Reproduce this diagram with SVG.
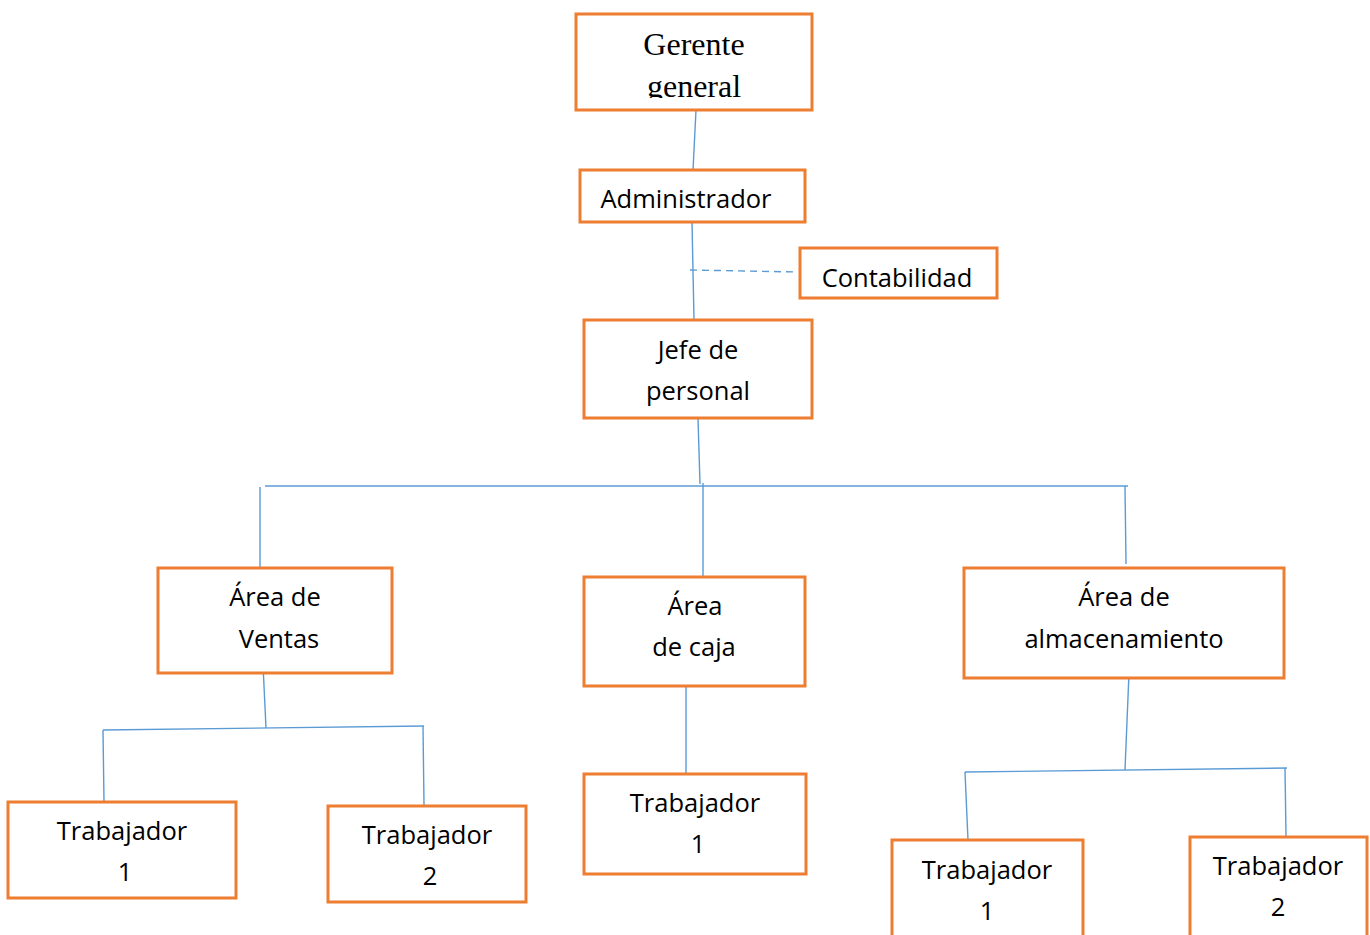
<svg xmlns="http://www.w3.org/2000/svg" width="1370" height="935" viewBox="0 0 1370 935">
<style>
.box{fill:#fff;stroke:#ed7d31;stroke-width:3}
.t{font-family:"Open Sans","Noto Sans","Liberation Sans",sans-serif;font-size:25.5px;fill:#000;text-anchor:middle}
.s{font-family:"Liberation Serif",serif;font-size:32px;fill:#000;text-anchor:middle}
.c{stroke:#5b9bd5;stroke-width:1.4;fill:none}
.d{stroke-dasharray:7 5}
</style>
<defs>
<clipPath id="gclip"><rect x="576" y="14" width="236" height="84"/></clipPath>
</defs>
<rect width="1370" height="935" fill="#fff"/>
<g id="connectors">
<line class="c" x1="696" y1="110" x2="693" y2="170"/>
<line class="c" x1="692" y1="222" x2="694" y2="320"/>
<line class="c d" x1="690" y1="270" x2="798" y2="272"/>
<line class="c" x1="698" y1="418" x2="700" y2="484"/>
<line class="c" x1="265" y1="486" x2="1128" y2="486"/>
<line class="c" x1="260" y1="487" x2="260" y2="567"/>
<line class="c" x1="703" y1="483" x2="703" y2="576"/>
<line class="c" x1="1125" y1="486" x2="1126" y2="564"/>
<line class="c" x1="263" y1="665" x2="266" y2="728"/>
<line class="c" x1="103" y1="730" x2="424" y2="726"/>
<line class="c" x1="103" y1="730" x2="104" y2="802"/>
<line class="c" x1="423" y1="726" x2="424" y2="805"/>
<line class="c" x1="686" y1="682" x2="686" y2="774"/>
<line class="c" x1="1129" y1="673" x2="1125" y2="770"/>
<line class="c" x1="965" y1="772" x2="1287" y2="768"/>
<line class="c" x1="965" y1="772" x2="968" y2="840"/>
<line class="c" x1="1285" y1="768" x2="1286" y2="836"/>
</g>
<g id="gerente">
<rect class="box" x="576" y="14" width="236" height="96"/>
<g clip-path="url(#gclip)">
<text class="s" x="694" y="55">Gerente</text>
<text class="s" x="694" y="97">general</text>
</g>
</g>
<g id="administrador">
<rect class="box" x="580" y="170" width="225" height="52"/>
<text class="t" x="686" y="208">Administrador</text>
</g>
<g id="contabilidad">
<rect class="box" x="800" y="248" width="197" height="50"/>
<text class="t" x="897" y="287">Contabilidad</text>
</g>
<g id="jefe">
<rect class="box" x="584" y="320" width="228" height="98"/>
<text class="t" x="698" y="359">Jefe de</text>
<text class="t" x="698" y="400">personal</text>
</g>
<g id="ventas">
<rect class="box" x="158" y="568" width="234" height="105"/>
<text class="t" x="275" y="606">Área de</text>
<text class="t" x="279" y="648">Ventas</text>
</g>
<g id="caja">
<rect class="box" x="584" y="577" width="221" height="109"/>
<text class="t" x="695" y="615">Área</text>
<text class="t" x="694" y="656">de caja</text>
</g>
<g id="almacenamiento">
<rect class="box" x="964" y="568" width="320" height="110"/>
<text class="t" x="1124" y="606">Área de</text>
<text class="t" x="1124" y="648">almacenamiento</text>
</g>
<g id="ventas-t1">
<rect class="box" x="8" y="802" width="228" height="96"/>
<text class="t" x="122" y="840">Trabajador</text>
<text class="t" x="125" y="881">1</text>
</g>
<g id="ventas-t2">
<rect class="box" x="328" y="806" width="198" height="96"/>
<text class="t" x="427" y="844">Trabajador</text>
<text class="t" x="430" y="885">2</text>
</g>
<g id="caja-t1">
<rect class="box" x="584" y="774" width="222" height="100"/>
<text class="t" x="695" y="812">Trabajador</text>
<text class="t" x="698" y="853">1</text>
</g>
<g id="alm-t1">
<rect class="box" x="892" y="840" width="191" height="110"/>
<text class="t" x="987" y="879">Trabajador</text>
<text class="t" x="987" y="920">1</text>
</g>
<g id="alm-t2">
<rect class="box" x="1190" y="837" width="177" height="110"/>
<text class="t" x="1278" y="875">Trabajador</text>
<text class="t" x="1278" y="916">2</text>
</g>
</svg>
